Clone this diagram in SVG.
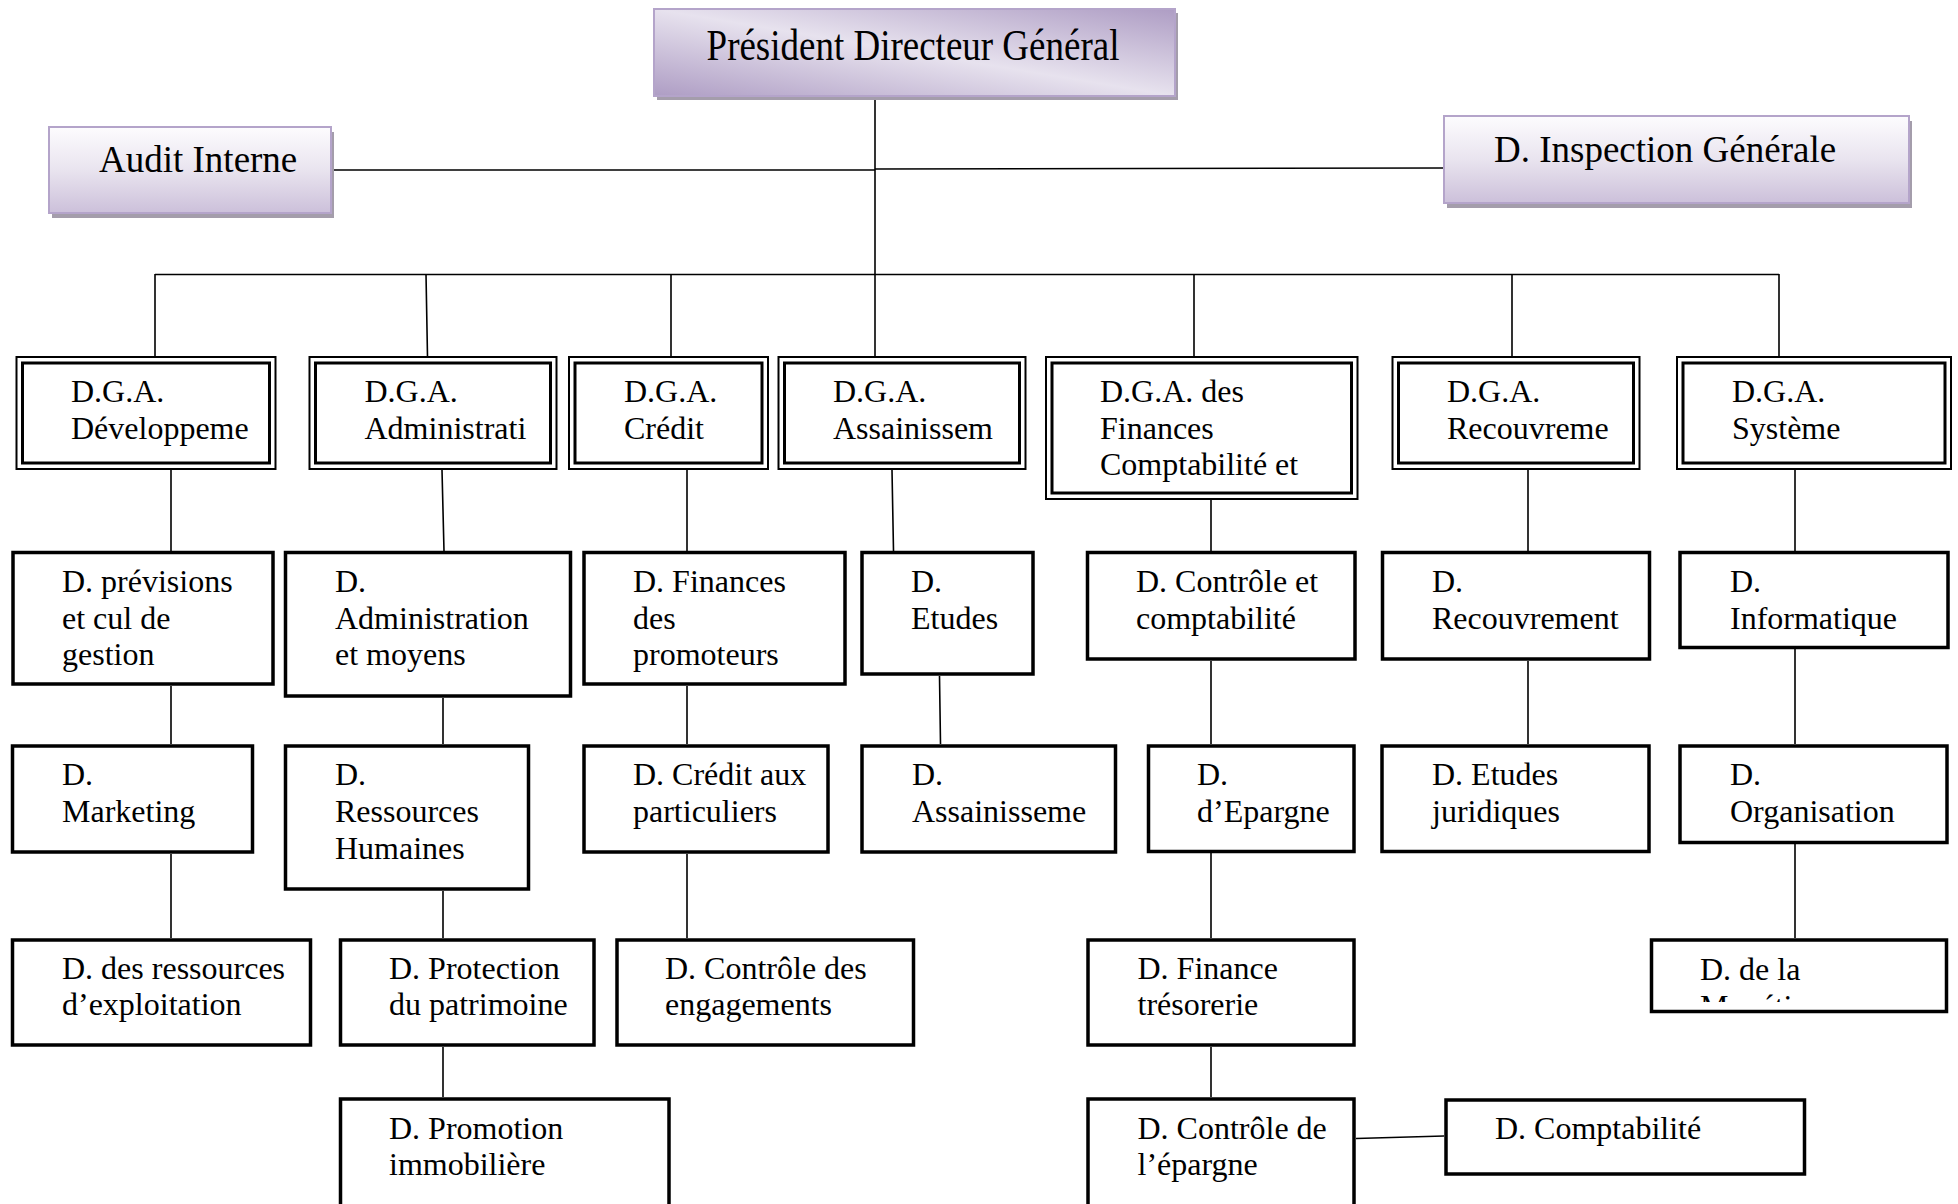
<svg xmlns="http://www.w3.org/2000/svg" width="1958" height="1204" viewBox="0 0 1958 1204">
<defs>
<linearGradient id="gV" x1="0" y1="0" x2="0" y2="1">
<stop offset="0" stop-color="#fdfcfe"/>
<stop offset="0.5" stop-color="#e9e4ef"/>
<stop offset="1" stop-color="#ccc0da"/>
</linearGradient>
<linearGradient id="gD" x1="0" y1="1" x2="1" y2="0">
<stop offset="0" stop-color="#ae9dc4"/>
<stop offset="0.5" stop-color="#e7e2ee"/>
<stop offset="1" stop-color="#ae9dc4"/>
</linearGradient>
<clipPath id="clipMon"><rect x="1650" y="940" width="298" height="62"/></clipPath>
</defs>
<style>
text{font-family:"Liberation Serif","Times New Roman",serif;font-size:32px;fill:#000}
.big{font-size:37px}
.shadow{fill:#a49dab}
.top{stroke:#b4a4ca;stroke-width:2}
.o{fill:#fff;stroke:#000;stroke-width:2}
.i{fill:none;stroke:#000;stroke-width:3}
.b{fill:#fff;stroke:#000;stroke-width:3.5}
.c{fill:none;stroke:#000;stroke-width:1.6}
</style>
<rect width="1958" height="1204" fill="#fff"/>

<g id="connectors">
<path class="c" d="M331 170 L875 170 M875 169 L1444 168"/>
<path class="c" d="M875 96 L875 357"/>
<path class="c" d="M155 274.5 L1779 274.5"/>
<path class="c" d="M155 274 L155 357 M426 274 L427.5 357 M671 274 L671 357 M1194 274 L1194 357 M1512 274 L1512 357 M1779 274 L1779 357"/>
<path class="c" d="M171 470 L171 551 M171 686 L171 744 M171 854 L171 938"/>
<path class="c" d="M442 470 L444 551 M443 698 L443 744 M443 891 L443 938 M443 1047 L443 1097"/>
<path class="c" d="M687 470 L687 551 M687 686 L687 744 M687 854 L687 938"/>
<path class="c" d="M892 470 L893.5 551 M939.5 676 L940.5 744"/>
<path class="c" d="M1211 500 L1211 551 M1211 661 L1211 744 M1211 853 L1211 938 M1211 1047 L1211 1097"/>
<path class="c" d="M1528 470 L1528 551 M1528 661 L1528 744"/>
<path class="c" d="M1795 470 L1795 551 M1795 649 L1795 744 M1795 844 L1795 938"/>
<path class="c" d="M1356 1138.5 L1444 1136"/>
</g>

<g id="pdg">
<rect class="shadow" x="657" y="13" width="521" height="87"/>
<rect class="top" x="654" y="9" width="521" height="87" fill="url(#gD)"/>
<text class="big" x="913" y="60" text-anchor="middle" transform="translate(0,60) scale(1,1.18) translate(0,-60)">Président Directeur Général</text>
</g>
<g id="audit">
<rect class="shadow" x="52" y="132" width="282" height="86"/>
<rect class="top" x="49" y="127" width="282" height="86" fill="url(#gV)"/>
<text class="big" x="99" y="172">Audit Interne</text>
</g>
<g id="inspection">
<rect class="shadow" x="1447" y="121" width="465" height="87"/>
<rect class="top" x="1444" y="116" width="465" height="87" fill="url(#gV)"/>
<text class="big" x="1494" y="162">D. Inspection Générale</text>
</g>

<g id="dga-dev">
<rect class="o" x="16.5" y="357" width="259" height="112"/>
<rect class="i" x="22.5" y="363" width="247" height="100"/>
<text x="71" y="402">D.G.A.</text><text x="71" y="438.5">Développeme</text>
</g>
<g id="dga-admin">
<rect class="o" x="309.5" y="357" width="247" height="112"/>
<rect class="i" x="315.5" y="363" width="235" height="100"/>
<text x="364.5" y="402">D.G.A.</text><text x="364.5" y="438.5">Administrati</text>
</g>
<g id="dga-credit">
<rect class="o" x="569" y="357" width="199" height="112"/>
<rect class="i" x="575" y="363" width="187" height="100"/>
<text x="624" y="402">D.G.A.</text><text x="624" y="438.5">Crédit</text>
</g>
<g id="dga-assain">
<rect class="o" x="778.5" y="357" width="247" height="112"/>
<rect class="i" x="784.5" y="363" width="235" height="100"/>
<text x="833" y="402">D.G.A.</text><text x="833" y="438.5">Assainissem</text>
</g>
<g id="dga-finances">
<rect class="o" x="1046" y="357" width="311.5" height="142"/>
<rect class="i" x="1052" y="363" width="299.5" height="130"/>
<text x="1100" y="402">D.G.A. des</text><text x="1100" y="438.5">Finances</text><text x="1100" y="475">Comptabilité et</text>
</g>
<g id="dga-recouv">
<rect class="o" x="1392.5" y="357" width="247" height="112"/>
<rect class="i" x="1398.5" y="363" width="235" height="100"/>
<text x="1447" y="402">D.G.A.</text><text x="1447" y="438.5">Recouvreme</text>
</g>
<g id="dga-systeme">
<rect class="o" x="1677" y="357" width="274" height="112"/>
<rect class="i" x="1683" y="363" width="262" height="100"/>
<text x="1732" y="402">D.G.A.</text><text x="1732" y="438.5">Système</text>
</g>

<g id="d-previsions">
<rect class="b" x="13" y="552.5" width="260" height="131.5"/>
<text x="62" y="592">D. prévisions</text><text x="62" y="628.5">et cul de</text><text x="62" y="665">gestion</text>
</g>
<g id="d-administration">
<rect class="b" x="285.5" y="552.5" width="285" height="143.5"/>
<text x="335" y="592">D.</text><text x="335" y="628.5">Administration</text><text x="335" y="665">et moyens</text>
</g>
<g id="d-finances-promoteurs">
<rect class="b" x="584" y="552.5" width="261" height="131.5"/>
<text x="633" y="592">D. Finances</text><text x="633" y="628.5">des</text><text x="633" y="665">promoteurs</text>
</g>
<g id="d-etudes">
<rect class="b" x="862" y="552.5" width="171" height="121.5"/>
<text x="911" y="592">D.</text><text x="911" y="628.5">Etudes</text>
</g>
<g id="d-controle-compta">
<rect class="b" x="1087.5" y="552.5" width="267.5" height="106.5"/>
<text x="1136" y="592">D. Contrôle et</text><text x="1136" y="628.5">comptabilité</text>
</g>
<g id="d-recouvrement">
<rect class="b" x="1382.5" y="552.5" width="267" height="106.5"/>
<text x="1432" y="592">D.</text><text x="1432" y="628.5">Recouvrement</text>
</g>
<g id="d-informatique">
<rect class="b" x="1680" y="552.5" width="268" height="95"/>
<text x="1730" y="592">D.</text><text x="1730" y="628.5">Informatique</text>
</g>

<g id="d-marketing">
<rect class="b" x="12.5" y="746" width="240" height="106"/>
<text x="62" y="785">D.</text><text x="62" y="822">Marketing</text>
</g>
<g id="d-rh">
<rect class="b" x="285.5" y="746" width="243" height="143"/>
<text x="335" y="785">D.</text><text x="335" y="822">Ressources</text><text x="335" y="858.5">Humaines</text>
</g>
<g id="d-credit-part">
<rect class="b" x="584" y="746" width="244" height="106"/>
<text x="633" y="785">D. Crédit aux</text><text x="633" y="822">particuliers</text>
</g>
<g id="d-assainissement">
<rect class="b" x="862" y="746" width="253.5" height="106"/>
<text x="912" y="785">D.</text><text x="912" y="822">Assainisseme</text>
</g>
<g id="d-epargne">
<rect class="b" x="1148.5" y="746" width="205.5" height="105.5"/>
<text x="1197" y="785">D.</text><text x="1197" y="822">d’Epargne</text>
</g>
<g id="d-etudes-jur">
<rect class="b" x="1382" y="746" width="267" height="105.5"/>
<text x="1432" y="785">D. Etudes</text><text x="1432" y="822">juridiques</text>
</g>
<g id="d-organisation">
<rect class="b" x="1680" y="746" width="267" height="96.5"/>
<text x="1730" y="785">D.</text><text x="1730" y="822">Organisation</text>
</g>

<g id="d-ress-exploit">
<rect class="b" x="12.5" y="940" width="298" height="105"/>
<text x="62" y="978.5">D. des ressources</text><text x="62" y="1015">d’exploitation</text>
</g>
<g id="d-protection">
<rect class="b" x="340.5" y="940" width="253.5" height="105"/>
<text x="389" y="978.5">D. Protection</text><text x="389" y="1015">du patrimoine</text>
</g>
<g id="d-controle-eng">
<rect class="b" x="617" y="940" width="296.5" height="105"/>
<text x="665" y="978.5">D. Contrôle des</text><text x="665" y="1015">engagements</text>
</g>
<g id="d-finance-tres">
<rect class="b" x="1088" y="940" width="266" height="105"/>
<text x="1137.5" y="978.5">D. Finance</text><text x="1137.5" y="1015">trésorerie</text>
</g>
<g id="d-monetique">
<rect class="b" x="1651.5" y="940" width="295" height="71.5"/>
<text x="1700" y="980">D. de la</text>
<text x="1700" y="1017" clip-path="url(#clipMon)">Monétique</text>
</g>

<g id="d-promotion">
<rect class="b" x="340.5" y="1099" width="328.5" height="120"/>
<text x="389" y="1138.5">D. Promotion</text><text x="389" y="1175">immobilière</text>
</g>
<g id="d-controle-epargne">
<rect class="b" x="1088" y="1099" width="266" height="120"/>
<text x="1137.5" y="1138.5">D. Contrôle de</text><text x="1137.5" y="1175">l’épargne</text>
</g>
<g id="d-comptabilite">
<rect class="b" x="1446" y="1100" width="358.5" height="74"/>
<text x="1495" y="1138.5">D. Comptabilité</text>
</g>
</svg>
